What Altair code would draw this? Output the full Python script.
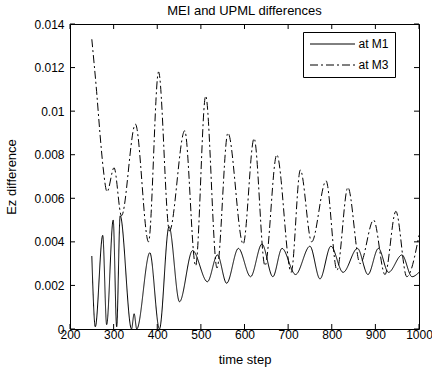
import altair as alt
import pandas as pd

# M1 (solid)
m1_t = [250, 258, 275, 284, 299, 307, 315, 341, 347, 353, 383, 405, 427, 451, 481,
        515, 538, 559, 586, 614, 640, 665, 686, 717, 750, 773, 798, 826, 859, 883,
        907, 930, 961, 984, 1000]
m1_v = [0.00335, 0.0001, 0.0043, 0.0002, 0.0050, 0.0001, 0.0052, 0.0000, 0.0007, 0.0000,
        0.0035, 0.0000, 0.0047, 0.00125, 0.0036, 0.00217, 0.0034, 0.0021, 0.0037, 0.0024,
        0.0039, 0.0024, 0.0037, 0.0025, 0.0038, 0.0023, 0.0038, 0.0026, 0.0037, 0.0025,
        0.0037, 0.0026, 0.0034, 0.0024, 0.0026]

# M3 (dash-dot)
m3_t = [250, 261, 269, 276, 285, 301, 318, 350, 380, 403, 428, 463, 488, 511, 537,
        562, 597, 622, 647, 674, 707, 728, 754, 787, 812, 837, 865, 896, 922, 947,
        972, 1000]
m3_v = [0.0133, 0.0109, 0.0089, 0.0074, 0.0063, 0.0074, 0.0052, 0.0094, 0.0040, 0.0118,
        0.0045, 0.0091, 0.0029, 0.0107, 0.0028, 0.0090, 0.0039, 0.00875, 0.0029, 0.0080,
        0.0026, 0.0073, 0.0040, 0.0068, 0.0027, 0.0065, 0.0030, 0.0050, 0.0025, 0.0054,
        0.0024, 0.0043]

series_names = ["at M1", "at M3"]
x_ticks = [200, 300, 400, 500, 600, 700, 800, 900, 1000]
y_ticks = [0, 0.002, 0.004, 0.006, 0.008, 0.010, 0.012, 0.014]

df = pd.concat([
    pd.DataFrame({"t": m1_t, "v": m1_v, "series": series_names[0]}),
    pd.DataFrame({"t": m3_t, "v": m3_v, "series": series_names[1]}),
])

W, H = 349, 305
FONT = "Liberation Sans"
xs = alt.Scale(domain=[200, 1000], nice=False, zero=False)
ys = alt.Scale(domain=[0, 0.014], nice=False)
x_axis = alt.Axis(values=x_ticks, format="d", title="time step", tickSize=0, grid=False,
                  domain=False, labelPadding=0, titlePadding=13, labelFlush=False)
y_axis = alt.Axis(values=y_ticks, format="~g", title="Ez difference", tickSize=0, grid=False,
                  domain=False, labelPadding=6, titlePadding=15, labelFlush=False)

lines = alt.Chart(df).mark_line(interpolate="monotone", color="black", strokeWidth=1).encode(
    x=alt.X("t:Q", scale=xs, axis=x_axis),
    y=alt.Y("v:Q", scale=ys, axis=y_axis),
    strokeDash=alt.StrokeDash("series:N",
                              scale=alt.Scale(domain=series_names, range=[[1, 0], [8, 3, 2, 3]]),
                              legend=alt.Legend(title=None, orient="none", legendX=233, legendY=8,
                                                symbolType="M-5,0H5", symbolSize=81,
                                                symbolOffset=17.5, labelOffset=20,
                                                symbolStrokeWidth=1, symbolStrokeColor="black",
                                                labelFontSize=12, labelFont=FONT, labelColor="black",
                                                padding=6, rowPadding=9,
                                                strokeColor="black", fillColor="white",
                                                cornerRadius=0)),
)

xt = pd.DataFrame({"t": x_ticks})
yt = pd.DataFrame({"v": y_ticks})
bottom = alt.Chart(xt).mark_rule(color="black").encode(
    x=alt.X("t:Q", scale=xs, axis=x_axis), y=alt.value(H), y2=alt.value(H - 5))
top = alt.Chart(xt).mark_rule(color="black").encode(
    x=alt.X("t:Q", scale=xs, axis=x_axis), y=alt.value(0), y2=alt.value(5))
left = alt.Chart(yt).mark_rule(color="black").encode(
    y=alt.Y("v:Q", scale=ys, axis=y_axis), x=alt.value(0), x2=alt.value(5))
right = alt.Chart(yt).mark_rule(color="black").encode(
    y=alt.Y("v:Q", scale=ys, axis=y_axis), x=alt.value(W), x2=alt.value(W - 5))

chart = alt.layer(lines, bottom, top, left, right).properties(
    width=W, height=H,
    title=alt.TitleParams("MEI and UPML differences", fontSize=13, font=FONT,
                          fontWeight="normal", color="black", offset=0, frame="group"),
    autosize=alt.AutoSizeParams(type="none"),
    padding={"left": 70, "top": 24, "right": 13, "bottom": 41},
    background="white",
).configure(font=FONT).configure_view(
    stroke="black", strokeWidth=1
).configure_axis(
    labelFont=FONT, labelFontSize=12, labelColor="black",
    titleFont=FONT, titleFontSize=13, titleColor="black", titleFontWeight="normal",
)

chart.save("out.html", embed_options={"renderer": "svg", "actions": False})
